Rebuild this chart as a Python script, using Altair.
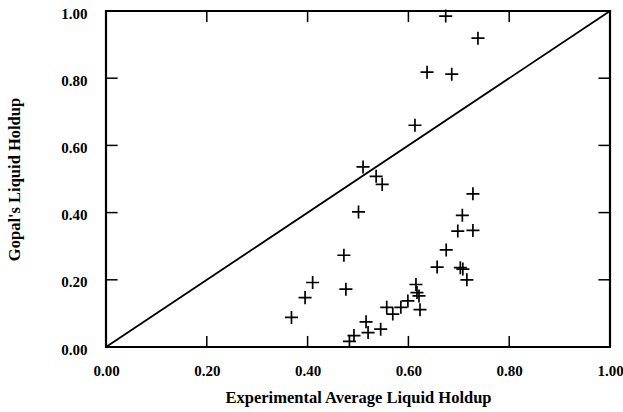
import altair as alt
import pandas as pd

# Experimental average liquid holdup (x) vs Gopal's predicted liquid holdup (y)
exp_holdup = [0.674, 0.738, 0.637, 0.686, 0.613, 0.510, 0.536, 0.548, 0.728,
              0.501, 0.707, 0.698, 0.728, 0.675, 0.472, 0.657, 0.703, 0.708,
              0.716, 0.476, 0.615, 0.617, 0.621, 0.599, 0.585, 0.557, 0.569,
              0.623, 0.516, 0.520, 0.545, 0.492, 0.483, 0.410, 0.395, 0.368]
gopal_holdup = [0.985, 0.919, 0.818, 0.812, 0.660, 0.536, 0.508, 0.484, 0.456,
                0.402, 0.392, 0.345, 0.347, 0.289, 0.273, 0.238, 0.236, 0.232,
                0.200, 0.172, 0.186, 0.162, 0.152, 0.137, 0.118, 0.118, 0.098,
                0.111, 0.075, 0.043, 0.053, 0.034, 0.017, 0.192, 0.147, 0.088]
axis_values = [0.0, 0.2, 0.4, 0.6, 0.8, 1.0]
inner_ticks = [0.2, 0.4, 0.6, 0.8]
diag_x = [0.0, 1.0]
diag_y = [0.0, 1.0]

TICK_Y = 0.033
TICK_X = 0.023
FONT = "Liberation Serif"

pts = pd.DataFrame({"x": exp_holdup, "y": gopal_holdup})
diag = pd.DataFrame({"x": diag_x, "y": diag_y})

rows = []
for t in inner_ticks:
    rows.append({"x": t, "x2": t, "y": 0.0, "y2": TICK_Y})
    rows.append({"x": t, "x2": t, "y": 1.0, "y2": 1.0 - TICK_Y})
    rows.append({"x": 0.0, "x2": TICK_X, "y": t, "y2": t})
    rows.append({"x": 1.0, "x2": 1.0 - TICK_X, "y": t, "y2": t})
ticks = pd.DataFrame(rows)

xs = alt.Scale(domain=[0, 1], nice=False, zero=False)
ys = alt.Scale(domain=[0, 1], nice=False, zero=False)

common_axis = dict(values=axis_values, format=".2f", tickSize=0, domain=False,
                   grid=False, labelFont=FONT, labelFontSize=15,
                   labelFontWeight="bold", labelColor="black", titleFont=FONT,
                   titleFontSize=16.5, titleFontWeight="bold", titleColor="black")

line = alt.Chart(diag).mark_line(color="black", strokeWidth=1.8).encode(
    x=alt.X("x:Q", scale=xs,
            title="Experimental Average Liquid Holdup",
            axis=alt.Axis(labelPadding=16, titlePadding=11, labelFlush=False,
                          **common_axis)),
    y=alt.Y("y:Q", scale=ys, title="Gopal's Liquid Holdup",
            axis=alt.Axis(labelPadding=19, titlePadding=38, labelFlush=False,
                          labelOffset=2, **common_axis)),
)

tick_layer = alt.Chart(ticks).mark_rule(color="black", strokeWidth=1.5).encode(
    x=alt.X("x:Q", scale=xs),
    x2="x2:Q",
    y=alt.Y("y:Q", scale=ys),
    y2="y2:Q",
)

points = alt.Chart(pts).mark_point(
    shape="M-1,0L1,0M0,-1L0,1", size=170, filled=False, stroke="black",
    strokeWidth=1.7, opacity=1,
).encode(
    x=alt.X("x:Q", scale=xs),
    y=alt.Y("y:Q", scale=ys),
)

chart = alt.layer(line, tick_layer, points).properties(
    width=504, height=336,
    padding={"left": 106, "top": 11, "right": 13, "bottom": 65},
    autosize=alt.AutoSizeParams(type="none"),
    background="white",
).configure_view(stroke="black", strokeWidth=2.2)

chart.save("out.html", embed_options={"renderer": "svg", "actions": False})
